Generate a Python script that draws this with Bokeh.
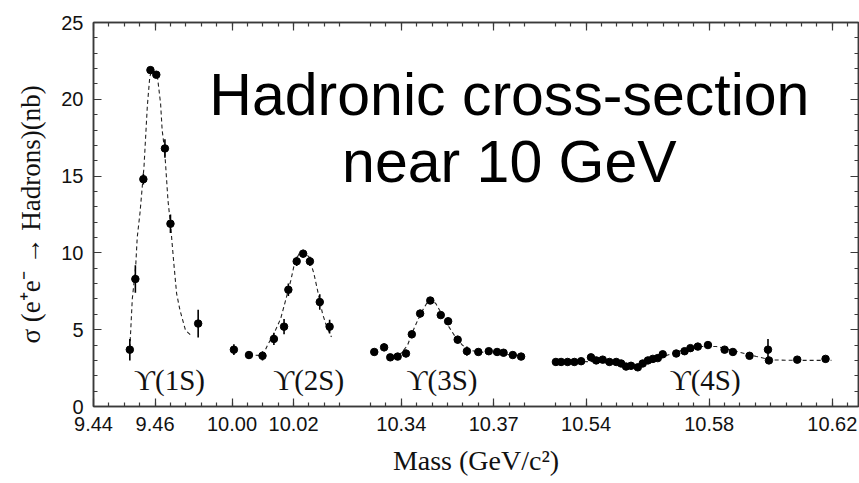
import numpy as np
from bokeh.plotting import figure
from bokeh.models import (ColumnDataSource, CustomJSTickFormatter, FixedTicker,
                          Label, LinearAxis, Range1d)
from bokeh.embed import file_html
from bokeh.resources import INLINE

# ---- measured cross-sections, sigma(e+e- -> hadrons) in nb, mass in GeV/c^2 ----
m_1s = [9.4518, 9.4536, 9.4562, 9.4585, 9.4604, 9.4632, 9.4650, 9.4740]
s_1s = [3.7, 8.3, 14.8, 21.9, 21.6, 16.8, 11.9, 5.4]
e_1s = [0.7, 0.9, 0.35, 0.2, 0.2, 0.6, 0.6, 0.9]

m_2s = [10.0006, 10.0055, 10.0099, 10.0136, 10.0169, 10.0183, 10.0210, 10.0231,
        10.0253, 10.0285, 10.0317]
s_2s = [3.7, 3.35, 3.3, 4.4, 5.2, 7.6, 9.45, 9.95, 9.45, 6.8, 5.2]
e_2s = [0.35, 0.25, 0.3, 0.4, 0.5, 0.4, 0.3, 0.25, 0.3, 0.5, 0.45]

m_3s = [10.3312, 10.3344, 10.3364, 10.3388, 10.3415, 10.3434, 10.3461, 10.3494,
        10.3528, 10.3552, 10.3583, 10.3613, 10.3650, 10.3684, 10.3711, 10.3732,
        10.3762, 10.3789]
s_3s = [3.55, 3.85, 3.2, 3.25, 3.45, 4.7, 6.05, 6.9, 5.95, 5.55, 4.35, 3.6,
        3.55, 3.6, 3.55, 3.5, 3.35, 3.25]
e_3s = [0.2, 0.25, 0.2, 0.2, 0.25, 0.25, 0.25, 0.15, 0.2, 0.25, 0.25, 0.3,
        0.15, 0.15, 0.15, 0.15, 0.15, 0.2]

m_4s = [10.5302, 10.5319, 10.5340, 10.5362, 10.5384, 10.5416, 10.5433, 10.5454,
        10.5476, 10.5498, 10.5514, 10.5530, 10.5546, 10.5568, 10.5584, 10.5601,
        10.5617, 10.5633, 10.5649, 10.5693, 10.5720, 10.5739, 10.5763, 10.5796,
        10.5850, 10.5877, 10.5931, 10.5991, 10.5994, 10.6086, 10.6178]
s_4s = [2.9, 2.9, 2.9, 2.9, 2.95, 3.2, 3.0, 3.05, 2.9, 2.9, 2.8, 2.6, 2.65,
        2.55, 2.8, 3.0, 3.1, 3.15, 3.4, 3.45, 3.6, 3.8, 3.9, 4.0, 3.7, 3.55,
        3.3, 3.7, 3.0, 3.05, 3.1]
e_4s = [0.12, 0.12, 0.12, 0.12, 0.12, 0.15, 0.12, 0.12, 0.12, 0.12, 0.15,
        0.15, 0.15, 0.15, 0.15, 0.15, 0.15, 0.15, 0.15, 0.15, 0.15, 0.15,
        0.15, 0.15, 0.15, 0.15, 0.15, 0.7, 0.15, 0.15, 0.15]

# ---- fitted resonance curves ----
fit_1s_m = [9.4518, 9.4526, 9.4537, 9.4542, 9.4551, 9.4564, 9.4575, 9.4583,
            9.4591, 9.4607, 9.4618, 9.4623, 9.4631, 9.4642, 9.4650, 9.4661,
            9.4670, 9.4681, 9.4699, 9.4721]
fit_1s_s = [3.8, 7.0, 9.1, 11.0, 12.6, 15.6, 19.6, 21.5, 21.9, 21.6, 19.7,
            18.0, 16.7, 13.4, 11.9, 9.3, 7.35, 6.26, 4.95, 4.56]

fit_2s_m = [10.0054, 10.0100, 10.0115, 10.0136, 10.0158, 10.0174, 10.0191,
            10.0204, 10.0218, 10.0234, 10.0250, 10.0266, 10.0279, 10.0294,
            10.0308, 10.0323]
fit_2s_s = [3.36, 3.32, 3.98, 4.74, 5.72, 6.91, 8.21, 9.41, 9.95, 10.06, 9.73,
            8.65, 7.45, 6.04, 5.17, 4.52]

fit_3s_m = [10.3393, 10.3420, 10.3436, 10.3453, 10.3469, 10.3485, 10.3498,
            10.3512, 10.3534, 10.3555, 10.3577, 10.3599, 10.3626, 10.3659,
            10.3702, 10.3745, 10.3789]
fit_3s_s = [3.32, 3.98, 4.84, 5.61, 6.26, 6.80, 6.98, 6.70, 5.93, 5.17, 4.48,
            3.98, 3.65, 3.54, 3.48, 3.39, 3.30]

fit_4s_m = [10.5302, 10.5416, 10.5514, 10.5563, 10.5612, 10.5661, 10.5710,
            10.5775, 10.5823, 10.5888, 10.5953, 10.6002, 10.6100, 10.6197]
fit_4s_s = [2.87, 2.93, 2.74, 2.6, 2.87, 3.32, 3.65, 3.91, 3.91, 3.59, 3.26,
            3.03, 3.0, 3.0]

# ---- axis ticks ----
tick_masses = [9.44, 9.46, 10.00, 10.02, 10.34, 10.37, 10.54, 10.58, 10.62]
tick_labels = ["9.44", "9.46", "10.00", "10.02", "10.34", "10.37", "10.54",
               "10.58", "10.62"]
resonance_names = ["\u03d2(1S)", "\u03d2(2S)", "\u03d2(3S)", "\u03d2(4S)"]

# Broken mass axis: (low, high, reference mass, axis position of reference mass)
SEGMENTS = [
    (9.435, 9.48, 9.44, 0.0),
    (9.995, 10.04, 10.00, 0.045),
    (10.33, 10.385, 10.34, 0.10),
    (10.53, 10.63, 10.54, 0.16),
]
MINOR_STEP = 0.005
AXIS_COLOR = "#3a3a3a"


def to_axis(masses):
    """Map masses onto the compressed (broken) horizontal axis."""
    out = []
    for m in masses:
        for lo, hi, ref, pos in SEGMENTS:
            if lo <= m <= hi:
                out.append(pos + (m - ref))
                break
    return out


p = figure(width=859, height=483, output_backend="svg", toolbar_location=None,
           x_range=Range1d(0.0, 0.2485), y_range=Range1d(0, 25),
           min_border_left=93, min_border_right=1, min_border_top=22,
           min_border_bottom=77, background_fill_color="white",
           border_fill_color="white")
p.grid.visible = False
p.outline_line_color = AXIS_COLOR
p.outline_line_width = 1.5

# tick positions on the broken axis
major_x = to_axis(tick_masses)
minor_masses = []
for lo, hi, ref, pos in SEGMENTS:
    k = ref - MINOR_STEP * np.floor((ref - lo) / MINOR_STEP + 1e-9)
    while k <= hi - 0.004:
        minor_masses.append(round(k, 4))
        k += MINOR_STEP
minor_x = [u for u in to_axis(minor_masses) if 0 < u < 0.2485]
x_ticker = FixedTicker(ticks=major_x, minor_ticks=minor_x)
y_ticker = FixedTicker(ticks=[0, 5, 10, 15, 20, 25],
                       minor_ticks=[v for v in range(0, 26) if v % 5])


def style_axis(ax):
    ax.axis_line_color = AXIS_COLOR
    ax.axis_line_width = 1.5
    ax.major_tick_line_color = AXIS_COLOR
    ax.minor_tick_line_color = AXIS_COLOR
    ax.major_tick_line_width = 1.2
    ax.minor_tick_line_width = 1.2
    ax.major_tick_in = 8
    ax.major_tick_out = 0
    ax.minor_tick_in = 4
    ax.minor_tick_out = 0


xb = p.xaxis[0]
xb.ticker = x_ticker
xb.major_label_overrides = {u: t for u, t in zip(major_x, tick_labels)}
xb.major_label_text_font = "Liberation Sans"
xb.major_label_text_font_size = "20px"
xb.major_label_text_color = "#111111"
xb.major_label_standoff = 10
xb.axis_label = "Mass (GeV/c\u00b2)"
xb.axis_label_text_font = "Liberation Serif"
xb.axis_label_text_font_style = "normal"
xb.axis_label_text_font_size = "28px"
xb.axis_label_text_color = "#111111"
xb.axis_label_standoff = 11
style_axis(xb)

yl = p.yaxis[0]
yl.ticker = y_ticker
yl.major_label_text_font = "Liberation Sans"
yl.major_label_text_font_size = "20px"
yl.major_label_text_color = "#111111"
yl.major_label_standoff = 10
yl.axis_label = "\u03c3 (e\u207ae\u207b \u2192 Hadrons)(nb)"
yl.axis_label_text_font = "Liberation Serif"
yl.axis_label_text_font_style = "normal"
yl.axis_label_text_font_size = "27px"
yl.axis_label_text_color = "#111111"
yl.axis_label_standoff = 12
style_axis(yl)

# mirrored tick marks on the top and right edges of the frame (no labels)
blank = CustomJSTickFormatter(code="return ''")
xt = LinearAxis(ticker=x_ticker, formatter=blank, major_label_standoff=0)
style_axis(xt)
p.add_layout(xt, "above")
yr = LinearAxis(ticker=y_ticker, formatter=blank, major_label_standoff=0)
style_axis(yr)
p.add_layout(yr, "right")

# fitted curves (dashed) and data points with error bars
for fm, fs in [(fit_1s_m, fit_1s_s), (fit_2s_m, fit_2s_s),
               (fit_3s_m, fit_3s_s), (fit_4s_m, fit_4s_s)]:
    p.line(to_axis(fm), fs, line_color="#222222", line_width=1.1,
           line_dash="4 3")

for mm, ss, ee in [(m_1s, s_1s, e_1s), (m_2s, s_2s, e_2s),
                   (m_3s, s_3s, e_3s), (m_4s, s_4s, e_4s)]:
    src = ColumnDataSource(dict(
        x=to_axis(mm), y=ss,
        lo=[s - e for s, e in zip(ss, ee)],
        hi=[s + e for s, e in zip(ss, ee)]))
    p.segment(x0="x", y0="lo", x1="x", y1="hi", source=src,
              line_color="black", line_width=1.6)
    p.scatter(x="x", y="y", source=src, marker="circle", size=7.5,
              fill_color="black", line_color="black")

# resonance names under each peak
label_masses = [9.4647, 10.0249, 10.3532, 10.5787]
for name, lm in zip(resonance_names, label_masses):
    p.add_layout(Label(x=to_axis([lm])[0], y=1.72, text=name,
                       text_font="Liberation Serif", text_font_size="29px",
                       text_align="center", text_baseline="alphabetic",
                       text_color="#111111"))

# headline
for line, yv in [("Hadronic cross-section", 20.25), ("near 10 GeV", 15.95)]:
    p.add_layout(Label(x=0.1351, y=yv, text=line,
                       text_font="Liberation Sans", text_font_size="59px",
                       text_align="center", text_baseline="alphabetic",
                       text_color="black"))

open("out.html", "w").write(file_html(p, INLINE))
